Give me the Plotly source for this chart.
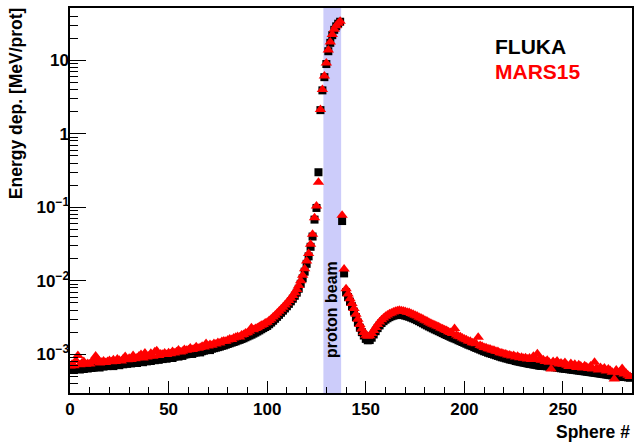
import plotly.graph_objects as go

# ---------------- data ----------------
sphere = list(range(0, 285))

fluka = [
    6.2e-4, 6.4e-4, 6.1e-4, 6.3e-4, 6.5e-4, 6.2e-4, 6.4e-4, 6.3e-4, 6.6e-4, 6.4e-4,
    6.7e-4, 6.5e-4, 6.6e-4, 6.9e-4, 6.7e-4, 6.6e-4, 7.0e-4, 6.8e-4, 7.1e-4, 6.9e-4,
    7.0e-4, 7.2e-4, 6.9e-4, 7.3e-4, 7.2e-4, 7.1e-4, 7.5e-4, 7.3e-4, 7.6e-4, 7.4e-4,
    7.6e-4, 7.5e-4, 7.8e-4, 7.7e-4, 7.6e-4, 8.0e-4, 8.1e-4, 7.8e-4, 8.2e-4, 8.0e-4,
    8.3e-4, 8.1e-4, 8.5e-4, 8.3e-4, 8.6e-4, 8.4e-4, 8.8e-4, 8.6e-4, 8.9e-4, 8.7e-4,
    9.0e-4, 9.2e-4, 8.9e-4, 9.3e-4, 9.5e-4, 9.3e-4, 9.7e-4, 9.5e-4, 9.9e-4, 1.00e-3,
    1.01e-3, 1.03e-3, 1.01e-3, 1.05e-3, 1.06e-3, 1.08e-3, 1.06e-3, 1.10e-3, 1.12e-3, 1.14e-3,
    1.16e-3, 1.14e-3, 1.19e-3, 1.21e-3, 1.23e-3, 1.25e-3, 1.27e-3, 1.30e-3, 1.32e-3, 1.35e-3,
    1.38e-3, 1.41e-3, 1.44e-3, 1.47e-3, 1.50e-3, 1.54e-3, 1.57e-3, 1.61e-3, 1.65e-3, 1.70e-3,
    1.75e-3, 1.80e-3, 1.85e-3, 1.91e-3, 1.97e-3, 2.04e-3, 2.11e-3, 2.19e-3, 2.27e-3, 2.35e-3,
    2.43e-3, 2.56e-3, 2.70e-3, 2.86e-3, 3.04e-3, 3.23e-3, 3.44e-3, 3.67e-3, 3.92e-3, 4.20e-3,
    4.50e-3, 4.85e-3, 5.25e-3, 5.70e-3, 6.25e-3, 6.90e-3, 7.80e-3, 9.10e-3, 1.08e-2, 1.33e-2,
    1.70e-2, 2.15e-2, 2.90e-2, 4.00e-2, 6.80e-2, 9.80e-2, 0.30,
    2.1, 3.9, 5.9, 8.9, 13.3, 17.3, 22.0, 26.0, 29.0, 31.5, 33.5,
    6.5e-2, 1.26e-2,
    7.0e-3, 6.0e-3, 5.2e-3, 4.5e-3, 3.8e-3, 3.2e-3, 2.7e-3, 2.3e-3, 2.0e-3, 1.80e-3,
    1.62e-3, 1.55e-3, 1.56e-3, 1.68e-3, 1.86e-3, 2.06e-3, 2.27e-3, 2.47e-3, 2.66e-3, 2.82e-3,
    2.96e-3, 3.09e-3, 3.20e-3, 3.29e-3, 3.36e-3, 3.41e-3, 3.45e-3, 3.46e-3, 3.44e-3, 3.41e-3,
    3.36e-3, 3.30e-3, 3.24e-3, 3.16e-3, 3.08e-3, 3.00e-3, 2.91e-3, 2.82e-3, 2.73e-3, 2.64e-3,
    2.55e-3, 2.47e-3, 2.39e-3, 2.32e-3, 2.25e-3, 2.18e-3, 2.12e-3, 2.06e-3, 2.00e-3, 1.94e-3,
    1.88e-3, 1.83e-3, 1.78e-3, 1.73e-3, 1.68e-3, 1.64e-3, 1.60e-3, 1.55e-3, 1.51e-3, 1.47e-3,
    1.43e-3, 1.39e-3, 1.35e-3, 1.32e-3, 1.29e-3, 1.25e-3, 1.22e-3, 1.19e-3, 1.16e-3, 1.13e-3,
    1.10e-3, 1.08e-3, 1.05e-3, 1.03e-3, 1.01e-3, 9.9e-4, 9.7e-4, 9.5e-4, 9.3e-4, 9.1e-4,
    9.0e-4, 8.8e-4, 8.7e-4, 8.5e-4, 8.4e-4, 8.3e-4, 8.1e-4, 8.0e-4, 7.9e-4, 7.8e-4,
    7.7e-4, 7.6e-4, 7.5e-4, 7.4e-4, 7.35e-4, 7.25e-4, 7.2e-4, 7.1e-4, 7.0e-4, 6.95e-4,
    6.95e-4, 6.9e-4, 6.85e-4, 6.8e-4, 6.75e-4, 6.7e-4, 6.65e-4, 6.6e-4, 6.5e-4, 6.45e-4,
    6.4e-4, 6.35e-4, 6.3e-4, 6.25e-4, 6.2e-4, 6.15e-4, 6.1e-4, 6.05e-4, 6.0e-4, 5.95e-4,
    5.9e-4, 5.85e-4, 5.8e-4, 5.75e-4, 5.7e-4, 5.65e-4, 5.6e-4, 5.55e-4, 5.5e-4, 5.45e-4,
    5.4e-4, 5.35e-4, 5.3e-4, 5.25e-4, 5.2e-4, 5.15e-4, 5.1e-4, 5.05e-4, 5.0e-4, 5.0e-4,
    4.95e-4, 4.9e-4, 4.9e-4, 4.85e-4, 4.8e-4,
]

mars15 = [
    6.9e-4, 7.3e-4, 7.0e-4, 8.2e-4, 9.6e-4, 7.2e-4, 7.6e-4, 8.0e-4, 7.3e-4, 7.5e-4,
    7.4e-4, 7.9e-4, 8.3e-4, 9.5e-4, 8.6e-4, 7.6e-4, 7.8e-4, 8.1e-4, 7.7e-4, 8.0e-4,
    8.2e-4, 7.9e-4, 8.4e-4, 8.0e-4, 8.6e-4, 8.3e-4, 8.1e-4, 8.7e-4, 9.3e-4, 8.4e-4,
    8.8e-4, 8.5e-4, 9.6e-4, 8.7e-4, 9.0e-4, 9.5e-4, 9.9e-4, 8.9e-4, 1.04e-3, 9.2e-4,
    9.5e-4, 1.03e-3, 9.4e-4, 1.08e-3, 1.12e-3, 9.6e-4, 1.01e-3, 1.00e-3, 1.04e-3, 9.9e-4,
    1.05e-3, 1.02e-3, 1.09e-3, 1.04e-3, 1.08e-3, 1.14e-3, 1.07e-3, 1.10e-3, 1.16e-3, 1.13e-3,
    1.15e-3, 1.22e-3, 1.16e-3, 1.19e-3, 1.27e-3, 1.21e-3, 1.24e-3, 1.29e-3, 1.26e-3, 1.40e-3,
    1.30e-3, 1.36e-3, 1.33e-3, 1.40e-3, 1.38e-3, 1.45e-3, 1.42e-3, 1.49e-3, 1.52e-3, 1.50e-3,
    1.56e-3, 1.61e-3, 1.59e-3, 1.66e-3, 1.70e-3, 1.75e-3, 1.72e-3, 1.83e-3, 1.86e-3, 1.94e-3,
    1.96e-3, 2.05e-3, 2.30e-3, 2.16e-3, 2.25e-3, 2.29e-3, 2.39e-3, 2.48e-3, 2.54e-3, 2.66e-3,
    2.73e-3, 2.89e-3, 3.02e-3, 3.21e-3, 3.40e-3, 3.62e-3, 3.84e-3, 4.10e-3, 4.38e-3, 4.69e-3,
    5.00e-3, 5.40e-3, 5.80e-3, 6.30e-3, 6.90e-3, 7.60e-3, 8.60e-3, 1.00e-2, 1.19e-2, 1.46e-2,
    1.86e-2, 2.35e-2, 3.15e-2, 4.30e-2, 7.20e-2, 1.04e-1, 0.22,
    2.15, 4.0, 6.1, 9.2, 13.8, 17.8, 22.5, 26.5, 29.5, 32.0, 34.0,
    7.8e-2, 1.45e-2,
    7.8e-3, 6.6e-3, 5.7e-3, 4.9e-3, 4.2e-3, 3.5e-3, 3.0e-3, 2.55e-3, 2.2e-3, 1.98e-3,
    1.82e-3, 1.76e-3, 1.79e-3, 1.92e-3, 2.11e-3, 2.32e-3, 2.54e-3, 2.75e-3, 2.94e-3, 3.12e-3,
    3.28e-3, 3.42e-3, 3.56e-3, 3.65e-3, 3.75e-3, 3.84e-3, 3.91e-3, 3.96e-3, 3.92e-3, 3.88e-3,
    3.83e-3, 3.74e-3, 3.70e-3, 3.59e-3, 3.51e-3, 3.40e-3, 3.33e-3, 3.20e-3, 3.12e-3, 3.01e-3,
    2.90e-3, 2.83e-3, 2.72e-3, 2.65e-3, 2.56e-3, 2.50e-3, 2.42e-3, 2.36e-3, 2.28e-3, 2.23e-3,
    2.15e-3, 2.10e-3, 2.03e-3, 1.98e-3, 1.91e-3, 2.25e-3, 1.83e-3, 1.76e-3, 1.73e-3, 1.66e-3,
    1.61e-3, 1.58e-3, 1.52e-3, 1.50e-3, 1.44e-3, 1.42e-3, 1.39e-3, 1.70e-3, 1.32e-3, 1.29e-3,
    1.24e-3, 1.23e-3, 1.19e-3, 1.18e-3, 1.14e-3, 1.13e-3, 1.10e-3, 1.09e-3, 1.05e-3, 1.04e-3,
    1.02e-3, 1.01e-3, 9.8e-4, 9.8e-4, 9.5e-4, 9.6e-4, 9.2e-4, 9.4e-4, 9.0e-4, 9.1e-4,
    8.8e-4, 9.0e-4, 8.6e-4, 8.9e-4, 8.5e-4, 9.4e-4, 8.7e-4, 1.02e-3, 8.6e-4, 8.3e-4,
    8.4e-4, 8.0e-4, 8.3e-4, 7.8e-4, 6.3e-4, 8.0e-4, 7.6e-4, 8.1e-4, 7.4e-4, 7.6e-4,
    7.3e-4, 7.7e-4, 7.1e-4, 6.8e-4, 7.5e-4, 7.0e-4, 7.3e-4, 6.6e-4, 7.2e-4, 6.9e-4,
    6.5e-4, 7.0e-4, 6.7e-4, 6.4e-4, 6.9e-4, 6.3e-4, 7.8e-4, 6.5e-4, 6.1e-4, 6.6e-4,
    6.2e-4, 6.5e-4, 5.9e-4, 6.3e-4, 6.0e-4, 5.7e-4, 4.6e-4, 6.1e-4, 5.6e-4, 5.8e-4,
    6.4e-4, 5.4e-4, 5.5e-4, 5.2e-4, 5.0e-4,
]

beam_band = [128.5, 137.5]
series_names = ["FLUKA", "MARS15"]
y_tick_vals = [1e-3, 1e-2, 1e-1, 1, 10]
y_tick_text = ["10<sup>\u22123</sup>", "10<sup>\u22122</sup>", "10<sup>\u22121</sup>", "1", "10"]
x_tick_vals = [0, 50, 100, 150, 200, 250]

FONT = "Liberation Sans"
Y_RANGE = [-3.527, 1.712]

fig = go.Figure()
# FLUKA on the main y axis (carries the minor ticks)
fig.add_trace(go.Scatter(x=sphere, y=fluka, mode="markers", name=series_names[0], yaxis="y",
                         marker=dict(symbol="square", size=8, color="black", line=dict(width=0))))
# MARS15 on the overlaid y axis (identical range, carries the labelled major ticks)
fig.add_trace(go.Scatter(x=sphere, y=mars15, mode="markers", name=series_names[1], yaxis="y2",
                         marker=dict(symbol="triangle-up", size=10, color="#ff0000", line=dict(width=0))))

fig.add_shape(type="rect", xref="x", yref="paper", x0=beam_band[0], x1=beam_band[1], y0=0, y1=1,
              fillcolor="rgb(204,204,250)", line=dict(width=0), layer="below")

minor_y = [m * 10 ** e for e in range(-4, 2) for m in range(2, 10)]

fig.update_layout(
    xaxis=dict(range=[0, 285], tickmode="array", tickvals=x_tick_vals,
               ticks="inside", ticklen=12, tickwidth=1, tickcolor="black",
               minor=dict(ticks="inside", ticklen=6, dtick=10, tick0=0, tickcolor="black", showgrid=False),
               showline=True, linecolor="black", linewidth=1.5, mirror=True,
               showgrid=False, zeroline=False,
               tickfont=dict(family=FONT, size=17, color="black", weight="bold")),
    yaxis=dict(type="log", range=Y_RANGE, tickmode="array", tickvals=minor_y,
               showticklabels=False,
               ticks="inside", ticklen=8, tickwidth=1, tickcolor="black",
               showline=True, linecolor="black", linewidth=1.5, mirror=True,
               showgrid=False, zeroline=False),
    yaxis2=dict(type="log", range=Y_RANGE, overlaying="y", side="left", anchor="x",
                tickmode="array", tickvals=y_tick_vals, ticktext=y_tick_text,
                ticks="inside", ticklen=16, tickwidth=1, tickcolor="black",
                showline=False, showgrid=False, zeroline=False,
                tickfont=dict(family=FONT, size=17, color="black", weight="bold")),
)

fig.add_annotation(text="Energy dep. [MeV/prot]", xref="paper", yref="paper", x=-0.0957, y=1.008,
                   xanchor="center", yanchor="top", textangle=-90, showarrow=False,
                   font=dict(family=FONT, size=17.5, color="black", weight="bold"))
fig.add_annotation(text="Sphere #", xref="paper", yref="paper", x=1.0, y=-0.101,
                   xanchor="right", yanchor="middle", showarrow=False,
                   font=dict(family=FONT, size=17.5, color="black", weight="bold"))
fig.add_annotation(text="proton beam", xref="x", yref="paper", x=sum(beam_band) / 2, y=0.085,
                   xanchor="center", yanchor="bottom", textangle=-90, showarrow=False,
                   font=dict(family=FONT, size=16, color="black", weight="bold"))
fig.add_annotation(text=series_names[0], xref="paper", yref="paper", x=0.7535, y=0.899,
                   xanchor="left", yanchor="middle", showarrow=False,
                   font=dict(family=FONT, size=21, color="black", weight="bold"))
fig.add_annotation(text=series_names[1], xref="paper", yref="paper", x=0.7535, y=0.836,
                   xanchor="left", yanchor="middle", showarrow=False,
                   font=dict(family=FONT, size=21, color="#ff0000", weight="bold"))

fig.update_layout(width=636, height=442, margin=dict(l=70, r=2, t=8, b=49),
                  paper_bgcolor="white", plot_bgcolor="white", showlegend=False)

fig.write_html("out.html")
